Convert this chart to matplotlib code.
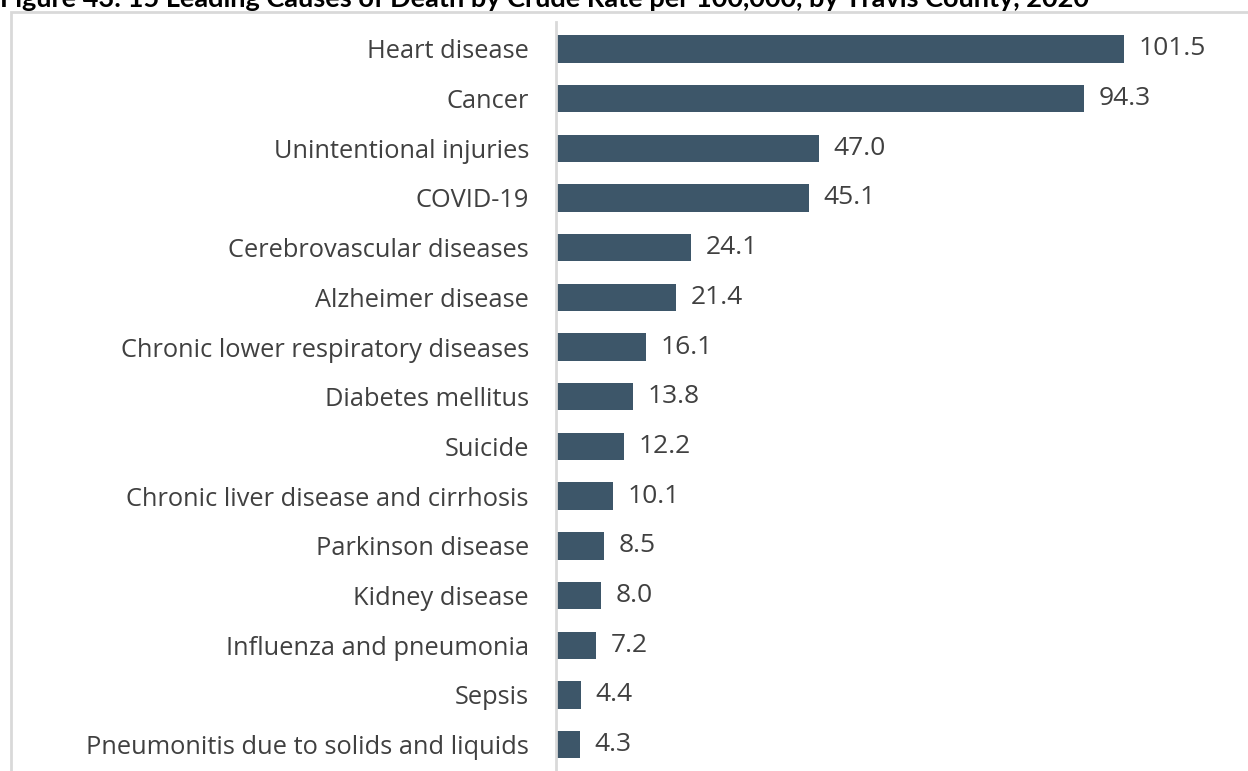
import matplotlib
matplotlib.use("Agg")
import matplotlib.pyplot as plt
from matplotlib.patches import Rectangle

causes = [
    "Heart disease",
    "Cancer",
    "Unintentional injuries",
    "COVID-19",
    "Cerebrovascular diseases",
    "Alzheimer disease",
    "Chronic lower respiratory diseases",
    "Diabetes mellitus",
    "Suicide",
    "Chronic liver disease and cirrhosis",
    "Parkinson disease",
    "Kidney disease",
    "Influenza and pneumonia",
    "Sepsis",
    "Pneumonitis due to solids and liquids",
]
rates = [101.5, 94.3, 47.0, 45.1, 24.1, 21.4, 16.1, 13.8, 12.2, 10.1, 8.5, 8.0, 7.2, 4.4, 4.3]
title = "Figure 43: 15 Leading Causes of Death by Crude Rate per 100,000, by Travis County, 2020"

W, H = 1248, 771
bar_color = "#3d5669"
text_color = "#404040"
grid_gray = "#d9d9d9"

plt.rcParams["font.family"] = ["Open Sans", "DejaVu Sans"]

fig = plt.figure(figsize=(W / 100, H / 100), dpi=100)

# chart frame, cut by the page edges on right and bottom
fig.patches.append(Rectangle((11 / W, -0.1), 1.2, 1.1 - 12 / H, transform=fig.transFigure,
                             fill=False, edgecolor=grid_gray, linewidth=2, clip_on=False))

fig.text(0, 1 - 7 / H, title, fontsize=19.5, fontweight="bold", color="black",
         va="baseline", ha="left", family=["Lato", "DejaVu Sans"])

ax_left, ax_top, ax_right = 556, 22, 1230
ax = fig.add_axes([ax_left / W, 0, (ax_right - ax_left) / W, 1 - ax_top / H])

pos = list(range(len(causes)))
ax.barh(pos, rates, height=0.55, color=bar_color)
for p, v in zip(pos, rates):
    ax.text(v + 2.6, p, f"{v:.1f}", va="center", ha="left", fontsize=19, color=text_color)

ax.set_xlim(0, (ax_right - ax_left) / 5.6)
ax.set_ylim(14.53, -0.54)
ax.set_yticks(pos)
ax.set_yticklabels(causes, fontsize=18.3, color=text_color)
ax.tick_params(axis="y", length=0, pad=19.5)
ax.set_xticks([])
for s in ["top", "right", "bottom"]:
    ax.spines[s].set_visible(False)
ax.spines["left"].set_color(grid_gray)
ax.spines["left"].set_linewidth(2)

fig.savefig("out.png", dpi=100)
